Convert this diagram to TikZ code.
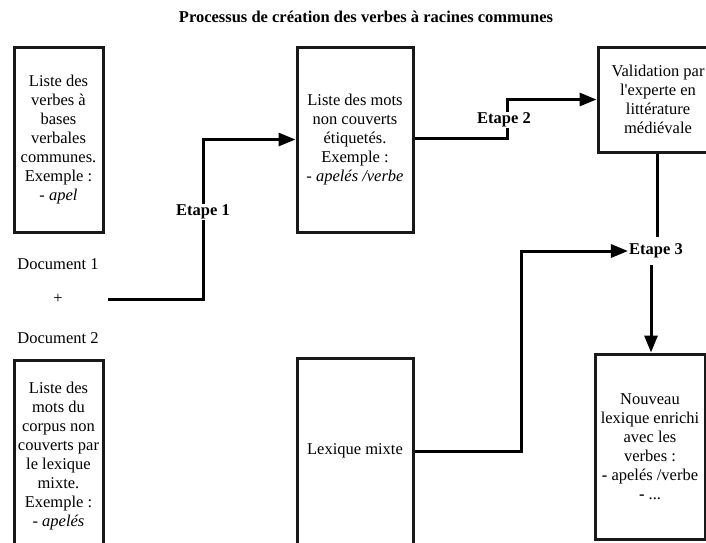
\documentclass[tikz,border=0pt]{standalone}
\usepackage{fontspec}
\setmainfont{Liberation Serif}
\usetikzlibrary{arrows.meta}
\begin{document}
\begin{tikzpicture}[x=1pt,y=-1pt,
  box/.style={draw=black!90,line width=3pt,fill=white,align=center,inner sep=0pt,
    font=\fontsize{16.5}{19}\selectfont},
  plain/.style={align=center,inner sep=0pt,font=\fontsize{16.5}{19}\selectfont},
  steplabel/.style={fill=white,inner sep=1pt,font=\fontsize{16.5}{19}\selectfont\bfseries},
  conn/.style={line width=3pt,draw=black},
  arr/.style={conn,-{Triangle[length=17pt,width=13pt]}}]
\useasboundingbox (0,0) rectangle (706,542);
\clip (0,0) rectangle (706,542);
\node[font=\fontsize{16.5}{19}\selectfont\bfseries] (title) at (366,17) {Processus de création des verbes à racines communes};
\node[box,minimum width=89pt,minimum height=185pt] (b1) at (58.5,139.5) {Liste des\\verbes à\\bases\\verbales\\communes.\\Exemple :\\- \textit{apel}};
\node[plain] (d1) at (58,264) {Document 1};
\node[plain] (plus) at (58,299) {+};
\node[plain] (d2) at (58,338) {Document 2};
\node[box,minimum width=89pt,minimum height=193pt] (b2) at (58.5,456.5) {Liste des\\mots du\\corpus non\\couverts par\\le lexique\\mixte.\\Exemple :\\- \textit{apelés}};
\node[box,minimum width=116pt,minimum height=185pt] (b3) at (355,139.5) {Liste des mots\\non couverts\\étiquetés.\\Exemple :\\- \textit{apelés /verbe}};
\node[box,minimum width=120pt,minimum height=105pt] (b4) at (658,99.5) {Validation par\\l\textquotesingle experte en\\littérature\\médiévale};
\node[box,minimum width=116pt,minimum height=186pt] (b5) at (355,451) {Lexique mixte};
\node[box,minimum width=110pt,minimum height=185pt] (b6) at (650,446.5) {Nouveau\\lexique enrichi\\avec les\\verbes :\\\textbf{-} apelés /verbe\\\textbf{-} ...};
\coordinate (start) at (108,299);
\draw[arr] (start) -- (203,299) |- (b3.west);
\node[steplabel] (e1) at (203,212) {Etape 1};
\draw[arr] (b3.east |- 0,138) -- (507,138) |- (b4.west);
\node[steplabel] (e2) at (504,120) {Etape 2};
\node[steplabel] (e3) at (656,251) {Etape 3};
\draw[conn] (b4.south -| 657,0) -- (657,237);
\draw[arr] (651,265) -- (b6.north -| 651,0);
\draw[arr] (b5.east) -- (521,451) |- (e3.west);
\end{tikzpicture}
\end{document}
